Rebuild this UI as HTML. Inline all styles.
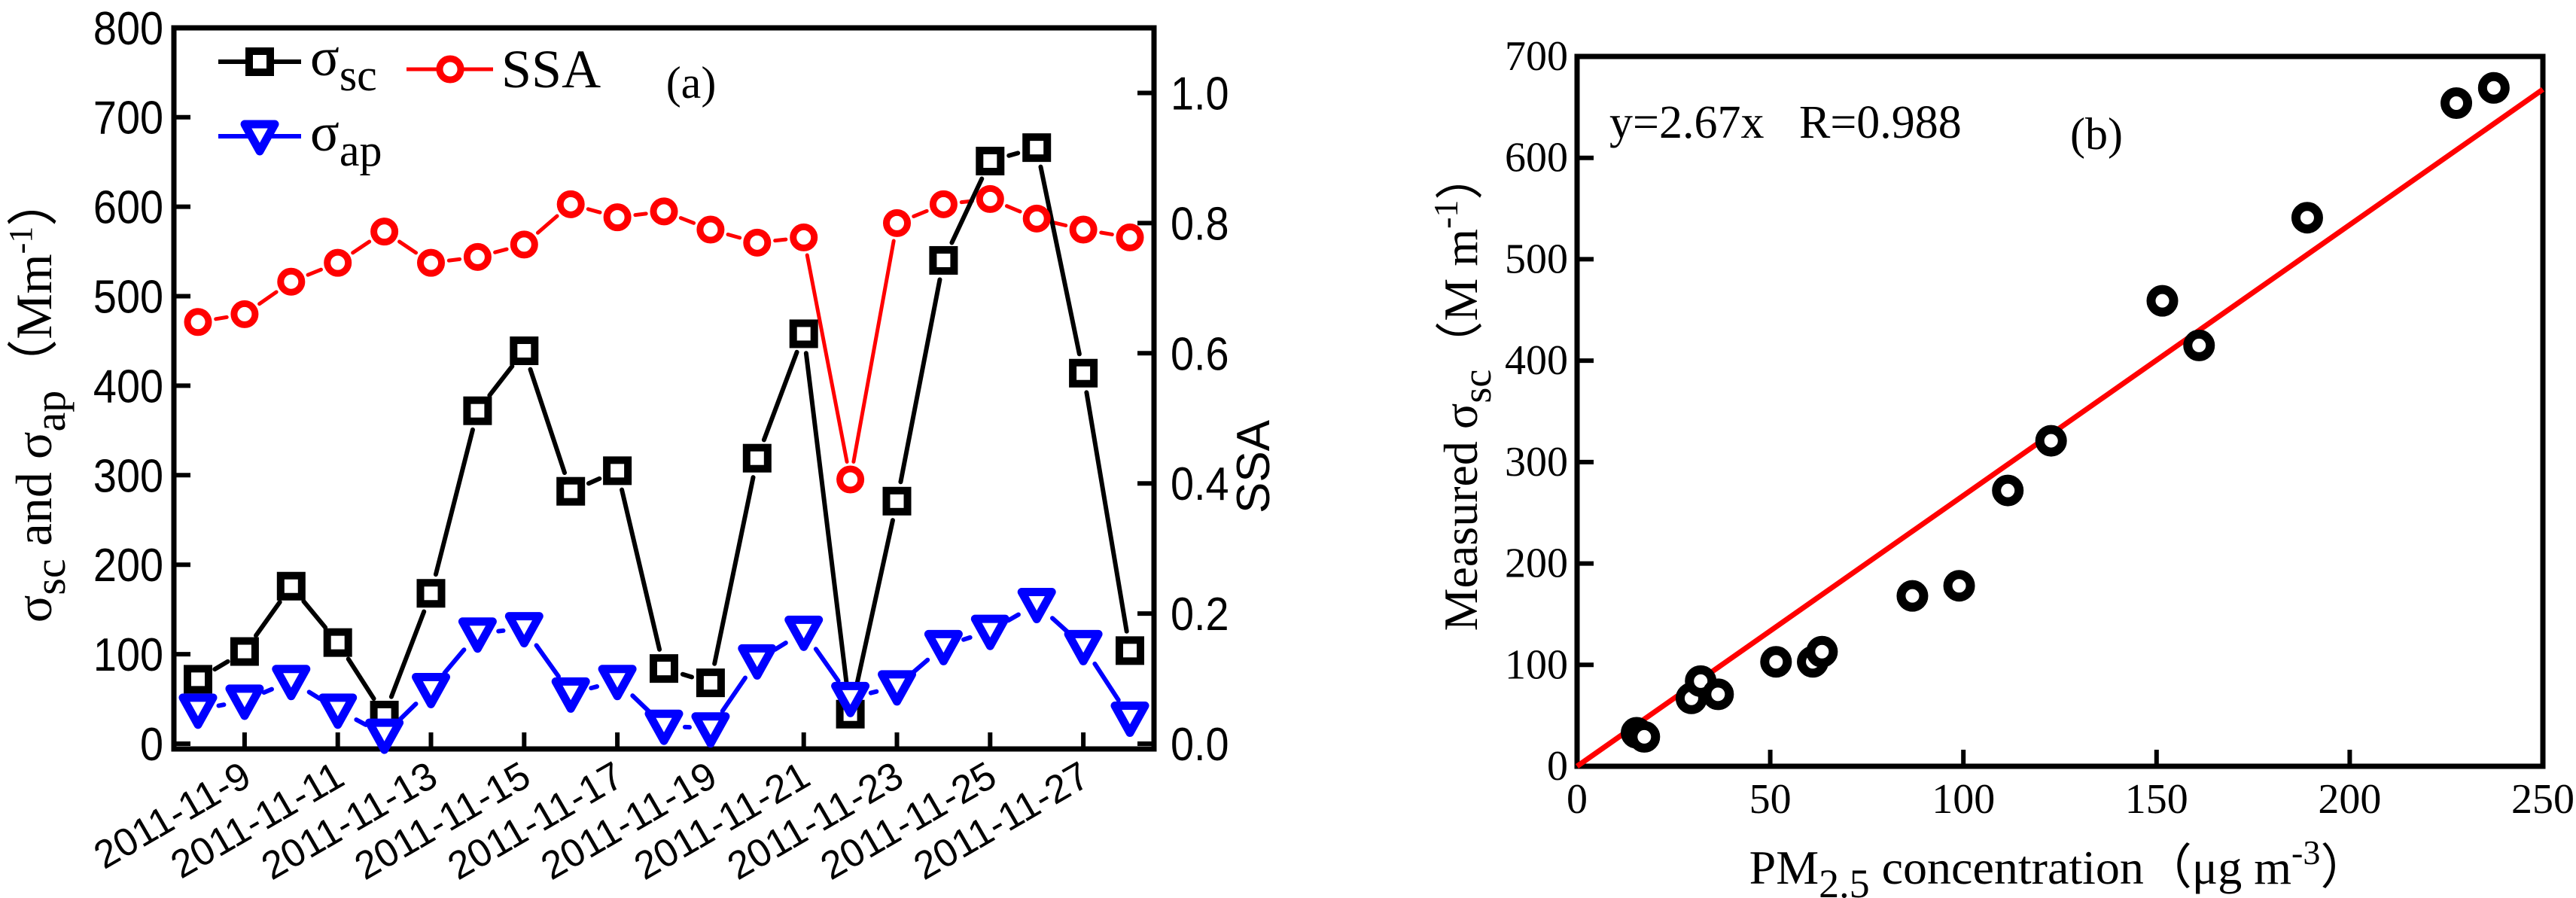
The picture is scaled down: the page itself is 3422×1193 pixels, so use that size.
<!DOCTYPE html>
<html><head><meta charset="utf-8"><style>
html,body{margin:0;padding:0;background:#fff;}
svg{display:block;}
.sans{font-family:"Liberation Sans",sans-serif;}
.serif{font-family:"Liberation Serif",serif;}
</style></head><body>
<svg id="fig" width="3422" height="1193" xmlns="http://www.w3.org/2000/svg">
<g id="pa"></g>
<g id="pb"></g>
</svg>
<script>
// ---- Panel (a) data ----
const dates = ["2011-11-8","2011-11-9","2011-11-10","2011-11-11","2011-11-12","2011-11-13","2011-11-14","2011-11-15","2011-11-16","2011-11-17","2011-11-18","2011-11-19","2011-11-20","2011-11-21","2011-11-22","2011-11-23","2011-11-24","2011-11-25","2011-11-26","2011-11-27","2011-11-28"];
const sigmaSc = [72,103,176,113,32,168,372,439,282,305,84,68,319,458,33,271,540,651,666,414,104];
const sigmaAp = [38,48,70,38,10,61,123,129,56,70,20,17,93,125,51,64,109,126,156,109,29];
const ssa = [0.648,0.66,0.71,0.739,0.787,0.739,0.748,0.767,0.829,0.809,0.818,0.79,0.77,0.778,0.406,0.80,0.829,0.837,0.807,0.79,0.778];
const leftTicks = [0,100,200,300,400,500,600,700,800];
const rightTicks = [0.0,0.2,0.4,0.6,0.8,1.0];
const rightTickLabels = ["0.0","0.2","0.4","0.6","0.8","1.0"];
// ---- Panel (b) data ----
const pmConc = [15.4,17.4,29.6,32,36.5,51.5,61,63.4,86.8,98.9,111.5,122.7,151.5,161,189,227.6,237.3];
const measSc = [33,29,67,84,71,103,103,113,168,178,272,321,459,415,541,654,669];
const fitSlope = [2.67];
const bxTicks = [0,50,100,150,200,250];
const byTicks = [0,100,200,300,400,500,600,700];

const NS="http://www.w3.org/2000/svg";
function mk(parent, tag, attrs){const e=document.createElementNS(NS,tag);for(const k in attrs)e.setAttribute(k,attrs[k]);parent.appendChild(e);return e;}

// ===== Panel A =====
const A=document.getElementById('pa');
const aL=231,aR=1533,aT=37,aB=995;
const ax=i=>263+i*61.9;
const ay=v=>988-v*1.189;
const ay2=v=>988-v*864.5;

let box=mk(A,'rect',{x:aL,y:aT,width:aR-aL,height:aB-aT,fill:'none',stroke:'#000','stroke-width':7});


leftTicks.forEach(v=>{
  const y=ay(v);
  let t=mk(A,'line',{x1:aL,x2:aL+22,y1:y,y2:y,stroke:'#000','stroke-width':6});
  
  
  let tx=mk(A,'text',{x:0,y:0,'text-anchor':'end','font-size':62,class:'sans',transform:`translate(${aL-14} ${y+22}) scale(0.9 1)`});
  tx.textContent=v;
  
  
});
rightTicks.forEach((v,i)=>{
  const y=ay2(v);
  let t=mk(A,'line',{x1:aR-22,x2:aR,y1:y,y2:y,stroke:'#000','stroke-width':6});
  
  
  let tx=mk(A,'text',{x:0,y:0,'font-size':62,class:'sans',transform:`translate(${aR+22} ${y+22}) scale(0.9 1)`});
  tx.textContent=rightTickLabels[i];
  
  
});
dates.forEach((d,i)=>{
  if(i%2!==1) return;
  const x=ax(i);
  let t=mk(A,'line',{x1:x,x2:x,y1:aB,y2:aB-22,stroke:'#000','stroke-width':6});
  
  
  let tx=mk(A,'text',{x:0,y:0,'text-anchor':'end','font-size':52,class:'sans',transform:`translate(${x+12} ${aB+46}) rotate(-30)`});
  tx.textContent=d;
  
  
});

function gappedLine(parent,pts,color,w,gap,name){
  for(let i=0;i<pts.length-1;i++){
    const [x1,y1]=pts[i],[x2,y2]=pts[i+1];
    const dx=x2-x1,dy=y2-y1,L=Math.hypot(dx,dy);
    if(L<=2*gap) continue;
    const ux=dx/L,uy=dy/L;
    let l=mk(parent,'line',{x1:x1+ux*gap,y1:y1+uy*gap,x2:x2-ux*gap,y2:y2-uy*gap,stroke:color,'stroke-width':w,'stroke-linecap':'round'});
    
    
  }
}
function square(parent,x,y,name){
  let r=mk(parent,'rect',{x:x-14,y:y-14,width:28,height:28,fill:'#fff',stroke:'#000','stroke-width':10});
  
  
}
function tri(parent,x,y,name){
  let p=mk(parent,'polygon',{points:`${x-20},${y-16} ${x+20},${y-16} ${x},${y+20}`,fill:'#fff',stroke:'#0000ff','stroke-width':11,'stroke-linejoin':'round'});
  
  
}
function circ(parent,x,y,r,sw,color,name){
  let c=mk(parent,'circle',{cx:x,cy:y,r:r,fill:'#fff',stroke:color,'stroke-width':sw});
  
  
}
const pSc=sigmaSc.map((v,i)=>[ax(i),ay(v)]);
const pAp=sigmaAp.map((v,i)=>[ax(i),ay(v)]);
const pSsa=ssa.map((v,i)=>[ax(i),ay2(v)]);
gappedLine(A,pSsa,'#ff0000',5,24,'ssa-line');
gappedLine(A,pSc,'#000',6,26,'sigma-sc-line');
gappedLine(A,pAp,'#0000ff',6,28,'sigma-ap-line');
pSsa.forEach(p=>circ(A,p[0],p[1],14,9,'#ff0000','ssa-point'));
pSc.forEach(p=>square(A,p[0],p[1],'sigma-sc-point'));
pAp.forEach(p=>tri(A,p[0],p[1],'sigma-ap-point'));

let lg=mk(A,'g',{});


mk(lg,'line',{x1:290,x2:400,y1:82,y2:82,stroke:'#000','stroke-width':6});
square(lg,345,82,'legend-sigma-sc-marker');
let t1=mk(lg,'text',{x:412,y:100,'font-size':72,class:'serif'});
t1.innerHTML='σ<tspan dy="20" font-size="60">sc</tspan>';


mk(lg,'line',{x1:290,x2:400,y1:181,y2:181,stroke:'#0000ff','stroke-width':6});
tri(lg,345,181,'legend-sigma-ap-marker');
let t2=mk(lg,'text',{x:412,y:200,'font-size':72,class:'serif'});
t2.innerHTML='σ<tspan dy="20" font-size="60">ap</tspan>';


mk(lg,'line',{x1:540,x2:655,y1:92,y2:92,stroke:'#ff0000','stroke-width':5});
circ(lg,598,92,14,9,'#ff0000','legend-ssa-marker');
let t3=mk(lg,'text',{x:666,y:116,'font-size':72,class:'serif'});
t3.textContent='SSA';


let pa=mk(A,'text',{x:918,y:130,'font-size':60,'text-anchor':'middle',class:'serif'});
pa.textContent='(a)';


let yt=mk(A,'text',{x:0,y:0,'font-size':68,'text-anchor':'middle',class:'serif',transform:'translate(68 530) rotate(-90)'});
yt.innerHTML='σ<tspan dy="18" font-size="58">sc</tspan><tspan dy="-18"> and  σ</tspan><tspan dy="18" font-size="58">ap</tspan><tspan dy="-18">（Mm</tspan><tspan dy="-26" font-size="44">-1</tspan><tspan dy="26">）</tspan>';


let yr=mk(A,'text',{x:0,y:0,'font-size':62,'text-anchor':'middle',class:'sans',transform:'translate(1686 620) rotate(-90)'});
yr.textContent='SSA';



// ===== Panel B =====
const B=document.getElementById('pb');
const bL=2095,bR=3378,bT=75,bB=1018;
const bx=v=>bL+v*(bR-bL)/250;
const by=v=>bB-v*(bB-bT)/700;
let bbox=mk(B,'rect',{x:bL,y:bT,width:bR-bL,height:bB-bT,fill:'none',stroke:'#000','stroke-width':7});


bxTicks.forEach(v=>{
  const x=bx(v);
  let t=mk(B,'line',{x1:x,x2:x,y1:bB,y2:bB-22,stroke:'#000','stroke-width':6});
  
  
  let tx=mk(B,'text',{x:x,y:bB+62,'text-anchor':'middle','font-size':56,class:'serif'});
  tx.textContent=v;
  
  
});
byTicks.forEach(v=>{
  const y=by(v);
  let t=mk(B,'line',{x1:bL,x2:bL+22,y1:y,y2:y,stroke:'#000','stroke-width':6});
  
  
  let tx=mk(B,'text',{x:bL-12,y:y+18,'text-anchor':'end','font-size':56,class:'serif'});
  tx.textContent=v;
  
  
});
let fl=mk(B,'line',{x1:bx(0),y1:by(0),x2:bx(250),y2:by(250*fitSlope[0]),stroke:'#ff0000','stroke-width':7});


pmConc.forEach((v,i)=>circ(B,bx(v),by(measSc[i]),15,12,'#000','scatter-point'));
let eq=mk(B,'text',{x:2138,y:183,'font-size':62,class:'serif'});
eq.textContent='y=2.67x\u00a0\u00a0\u00a0R=0.988';


let pbl=mk(B,'text',{x:2785,y:198,'font-size':60,'text-anchor':'middle',class:'serif'});
pbl.textContent='(b)';


let xtb=mk(B,'text',{x:2735,y:1174,'font-size':64,'text-anchor':'middle',class:'serif'});
xtb.innerHTML='PM<tspan dy="18" font-size="54">2.5</tspan><tspan dy="-18">  concentration（μg m</tspan><tspan dy="-26" font-size="46">-3</tspan><tspan dy="26">）</tspan>';


let ytb=mk(B,'text',{x:0,y:0,'font-size':64,'text-anchor':'middle',class:'serif',transform:'translate(1962 520) rotate(-90)'});
ytb.innerHTML='Measured σ<tspan dy="18" font-size="54">sc</tspan><tspan dy="-18">（M m</tspan><tspan dy="-26" font-size="46">-1</tspan><tspan dy="26">）</tspan>';


</script>
</body></html>
